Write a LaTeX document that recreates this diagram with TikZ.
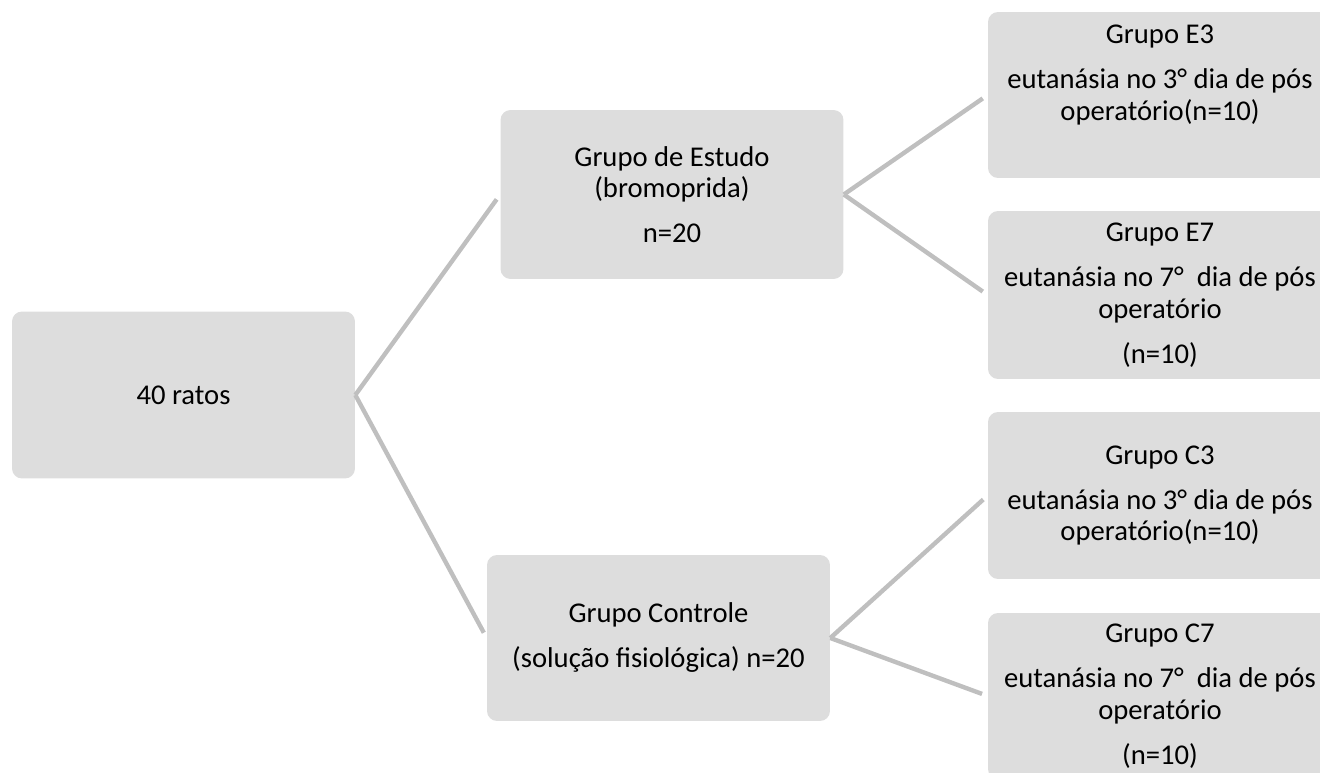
\documentclass[tikz,border=0pt]{standalone}
\usepackage{fontspec}
\setmainfont{Carlito}
\usepackage{xcolor}
\usepackage{tikz}
\usetikzlibrary{positioning}
\definecolor{boxgray}{HTML}{DDDDDD}
\definecolor{linegray}{HTML}{BFBFBF}

\begin{document}
\begin{tikzpicture}[x=0.02cm,y=-0.02cm,
	grupo/.style={fill=boxgray,rounded corners=0.2cm,minimum width=6.86cm,minimum height=3.34cm,inner sep=0pt,align=center,text=black,font=\fontsize{16.3}{17.9}\selectfont},
	link/.style={draw=linegray,line width=2.5pt,shorten >=0.12cm}]
	\clip (0,0) rectangle (1320,773);
	\node[grupo] (ratos) at (183.5,395) {40 ratos};
	\node[grupo,minimum height=3.38cm] (estudo) at (672,194.5) {Grupo de Estudo\\(bromoprida)\\[7.7pt]n=20};
	\node[grupo,minimum height=3.32cm] (controle) at (658.5,638) {Grupo Controle\\[7.7pt](solução fisiológica) n=20};
	\node[grupo,minimum width=6.88cm,minimum height=3.32cm] (e3) at (1160,95) {Grupo E3\\[7.7pt]eutanásia no 3° dia de pós\\operatório(n=10)\\[7.7pt]\mbox{}};
	\node[grupo,minimum width=6.88cm,minimum height=3.36cm] (e7) at (1160,295) {Grupo E7\\[7.7pt]eutanásia no 7°\ \ dia de pós\\operatório\\[7.7pt](n=10)};
	\node[grupo,minimum width=6.88cm] (c3) at (1160,495.5) {Grupo C3\\[7.7pt]eutanásia no 3° dia de pós\\operatório(n=10)};
	\node[grupo,minimum width=6.88cm,minimum height=3.32cm] (c7) at (1160,696) {Grupo C7\\[7.7pt]eutanásia no 7°\ \ dia de pós\\operatório\\[7.7pt](n=10)};
	\draw[link] (ratos.east) -- (estudo.west);
	\draw[link] (ratos.east) -- (controle.west);
	\draw[link] (estudo.east) -- (e3.west);
	\draw[link] (estudo.east) -- (e7.west);
	\draw[link] (controle.east) -- (c3.west);
	\draw[link] (controle.east) -- (c7.west);
\end{tikzpicture}
\end{document}
